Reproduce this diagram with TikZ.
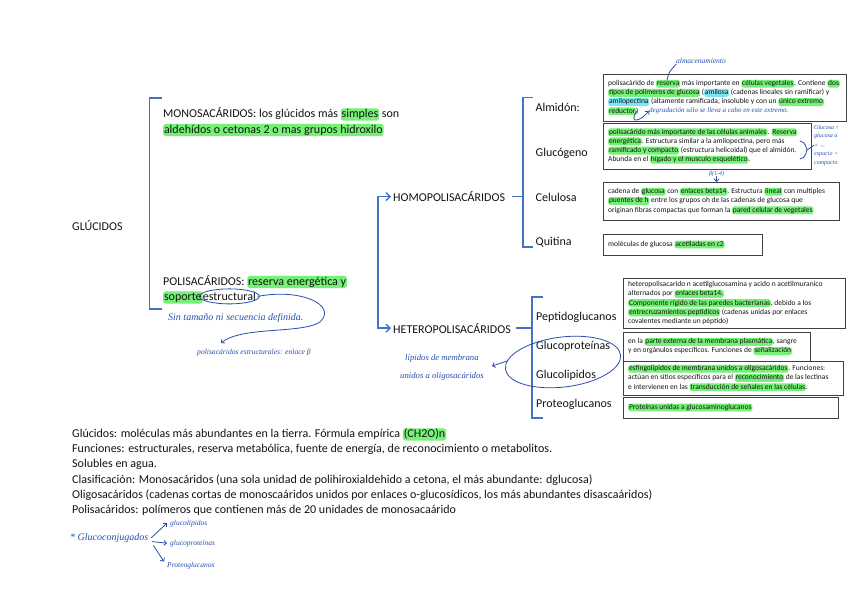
\documentclass[tikz,border=0pt]{standalone}
\usepackage{fontspec}
\setmainfont{Carlito}
\newfontfamily\handfont{Liberation Serif}
\usetikzlibrary{arrows.meta}
\definecolor{brblue}{RGB}{68,114,196}
\definecolor{ink}{RGB}{38,78,178}
\definecolor{hlgreen}{RGB}{118,240,118}
\definecolor{hlcyan}{RGB}{125,228,242}
\definecolor{boxc}{RGB}{64,64,64}
\definecolor{txt}{RGB}{20,20,20}
\newcommand\hlg[1]{\tikz[baseline=(hlbox.base)]\node[fill=hlgreen, draw=none, rounded corners=2.5pt, inner xsep=0.8pt, inner ysep=0.4pt, outer sep=0pt, anchor=base, align=none, text height=0.72em, text depth=0.22em] (hlbox) {#1};}
\newcommand\hlc[1]{\tikz[baseline=(hlbox.base)]\node[fill=hlcyan, draw=none, rounded corners=2.5pt, inner xsep=0.8pt, inner ysep=0.4pt, outer sep=0pt, anchor=base, align=none, text height=0.72em, text depth=0.22em] (hlbox) {#1};}
\begin{document}
\begin{tikzpicture}[x=1pt,y=-1pt,
  main/.style={anchor=base west, inner sep=0pt, text=txt, font=\fontsize{12}{14}\selectfont},
  bottomtxt/.style={main, font=\fontsize{12}{14}\selectfont},
  brk/.style={draw=brblue, line width=1.4pt},
  ibox/.style={draw=boxc, line width=0.9pt, anchor=north west, inner sep=0pt, outer sep=0pt},
  btext/.style={anchor=west, inner sep=0pt, align=left, text=txt, font=\fontsize{7.5}{9.2}\selectfont},
  hand/.style={anchor=base west, inner sep=0pt, text=ink, font={\handfont\itshape\fontsize{#1}{#1}\selectfont}},
  inkline/.style={draw=ink, line width=0.8pt, line cap=round},
  inkarrow/.style={inkline, -{Straight Barb[length=2.5pt,width=5pt]}},
  brarrow/.style={brk, {Straight Barb[length=4pt,width=8pt]}-{Straight Barb[length=4pt,width=8pt]}},
]
\fill[white] (0,0) rectangle (848,599);
\useasboundingbox (0,0) rectangle (848,599);

% main left
\node[main] (glu) at (72,230) {GLÚCIDOS};
\draw[brk] (162,98) -- (149.5,98) -- (149.5,309) -- (162,309);
\node[main] (mono1) at (163,117.5) {MONOSACÁRIDOS: los glúcidos más \hlg{simples} son};
\node[main] (mono2) at (163,133) {\hlg{aldehídos o cetonas 2 o mas grupos hidroxilo}};
\node[main] (poli1) at (163,285) {POLISACÁRIDOS: \hlg{reserva energética y}};
\node[main] (poli2) at (163,300.5) {\hlg{soporte\hspace{1.5pt}}};
\node[main] (estr) at (poli2.base east) {estructural};

% homo / hetero
\node[main] (homo) at (393,201.5) {HOMOPOLISACÁRIDOS};
\node[main] (hetero) at (393,333) {HETEROPOLISACÁRIDOS};
\draw[brarrow] ([xshift=-2pt]homo.west) -- ++(-13,0) |- ([xshift=-2pt]hetero.west);

\coordinate (hbt) at (523,97.5);
\coordinate (hbb) at (523,247);
\draw[brk] ([xshift=10pt]hbt) -- (hbt) -- (hbb) -- ([xshift=10pt]hbb);
\draw[brk] ([xshift=7pt]homo.east) -- (homo.east -| hbt);
\node[main] (almidon) at (535.5,112) {Almidón:};
\node[main] (glucog) at (535.5,156) {Glucógeno};
\node[main] (celul) at (535.5,201) {Celulosa};
\node[main] (quit) at (535.5,245) {Quitina};

\coordinate (tbt) at (532,297);
\coordinate (tbb) at (532,418);
\draw[brk] ([xshift=11pt]tbt) -- (tbt) -- (tbb) -- ([xshift=11pt]tbb);
\draw[brk] ([xshift=5pt]hetero.east) -- (hetero.east -| tbt);
\node[main] (peptido) at (536,320) {Peptidoglucanos};
\node[main] (glprot) at (536,349) {Glucoproteínas};
\node[main] (gllip) at (536,378) {Glucolipidos};
\node[main] (proteog) at (536,407.5) {Proteoglucanos};

% boxes
\node[ibox, minimum width=243pt, minimum height=47pt] (balm) at (603,74) {};
\node[btext] (talm) at ([xshift=5pt]balm.west) {polisacárido de \hlg{reserva} más importante en \hlg{células vegetales}. Contiene \hlg{dos}\\
\hlg{tipos de polímeros de glucosa} (\hlc{amilosa} (cadenas lineales sin ramificar) y\\
\hlc{amilopectina} (altamente ramificada, insoluble y con un \hlg{único extremo}\\
\hlg{reductor})};

\node[ibox, minimum width=208pt, minimum height=46pt] (bglu) at (603,123) {};
\node[btext] (tglu) at ([xshift=5pt]bglu.west) {\hlg{polisacárido más importante de las células animales}. \hlg{Reserva}\\
\hlg{energética}. Estructura similar a la amilopectina, pero más\\
\hlg{ramificado y compacto} (estructura helicoidal) que el almidón.\\
Abunda en el \hlg{hígado y el musculo esquelético}.};

\node[ibox, minimum width=236pt, minimum height=38pt] (bcel) at (603,182) {};
\node[btext] (tcel) at ([xshift=5pt]bcel.west) {cadena de \hlg{glucosa} con \hlg{enlaces beta14}. Estructura \hlg{lineal} con multiples\\
\hlg{puentes de h} entre los grupos oh de las cadenas de glucosa que\\
originan fibras compactas que forman la \hlg{pared celular de vegetales}};

\node[ibox, minimum width=159pt, minimum height=21pt] (bqui) at (603,234) {};
\node[btext] (tqui) at ([xshift=5pt]bqui.west) {moléculas de glucosa \hlg{acetiladas en c2}};

\node[ibox, minimum width=222pt, minimum height=50pt] (bpep) at (623,278) {};
\node[btext] (tpep) at ([xshift=5pt]bpep.west) {heteropolisacarido n acetilglucosamina y acido n acetilmuranico\\
alternados por \hlg{enlaces beta14.}\\
\hlg{Componente rígido de las paredes bacterianas}, debido a los\\
\hlg{entrecruzamientos peptídicos} (cadenas unidas por enlaces\\
covalentes mediante un péptido)};

\node[ibox, minimum width=187pt, minimum height=29pt] (bgpr) at (623,332) {};
\node[btext] (tgpr) at ([xshift=5pt]bgpr.west) {en la \hlg{parte externa de la membrana plasmática}, sangre\\
y en orgánulos específicos. Funciones de \hlg{señalización}};

\node[ibox, minimum width=220pt, minimum height=34pt] (bgli) at (623,361) {};
\node[btext] (tgli) at ([xshift=5pt]bgli.west) {\hlg{esfingolípidos de membrana unidos a oligosacáridos}. Funciones:\\
actúan en sitios específicos para el \hlg{reconocimiento} de las lectinas\\
e intervienen en las \hlg{transducción de señales en las células}.};

\node[ibox, minimum width=215pt, minimum height=21pt] (bpro) at (623,397) {};
\node[btext] (tpro) at ([xshift=5pt]bpro.west) {\hlg{Proteínas unidas a glucosaminoglucanos}};

% bottom text
\node[bottomtxt] (b1) at (72,437.5) {Glúcidos: moléculas más abundantes en la tierra. Fórmula empírica \hlg{(CH2O)n}};
\node[bottomtxt] (b2) at (72,452.7) {Funciones: estructurales, reserva metabólica, fuente de energía, de reconocimiento o metabolitos.};
\node[bottomtxt] (b3) at (72,467.9) {Solubles en agua.};
\node[bottomtxt] (b4) at (72,483.1) {Clasificación: Monosacáridos (una sola unidad de polihiroxialdehido a cetona, el más abundante: dglucosa)};
\node[bottomtxt] (b5) at (72,498.3) {Oligosacáridos (cadenas cortas de monoscaáridos unidos por enlaces o-glucosídicos, los más abundantes disascaáridos)};
\node[bottomtxt] (b6) at (72,513.5) {Polisacáridos: polímeros que contienen más de 20 unidades de monosacaárido};

% handwriting
\draw[inkline] (estr.center) ellipse [x radius=30pt, y radius=7.5pt];
\coordinate (polarr) at (221,343);
\draw[inkarrow] ([xshift=2pt]estr.east) .. controls (300,288) and (338,305) .. (320,322) .. controls (302,334) and (242,326) .. (polarr);
\node[hand=10] (sintam) at (168,320) {Sin tamaño ni secuencia definida.};
\node[hand=7.6] (polest) at (197,354) {polisacáridos estructurales: enlace β};

\coordinate (gle) at (563,362);
\draw[inkline, rotate around={7:(gle)}] (gle) ellipse [x radius=58pt, y radius=25pt];
\coordinate (lipa) at (507,361);
\coordinate (lipb) at (492,366);
\draw[inkarrow] (lipa) -- (lipb);
\node[hand=8.7] (lip1) at (405,360) {lípidos de membrana};
\node[hand=8.7] (lip2) at (400,378) {unidos a oligosacáridos};

\node[hand=7.5] (almac) at (676,64) {almacenamiento};
\coordinate (resv) at (667,80);
\draw[inkline] (resv) .. controls (669,72) .. (almac.south west);
\node[hand=7] (degr) at (649,112.5) {degradación sólo se lleva a cabo en este extremo.};
\coordinate (redend) at (637,111);
\draw[inkarrow] (redend) .. controls (628,124) and (640,122) .. (degr.west);

\coordinate (brtop) at (800,141);
\coordinate (brbot) at (800,159);
\coordinate (brmid) at (807,150);
\draw[inkline] (brtop) .. controls (806,142) and (806,148) .. (brmid) .. controls (806,152) and (806,158) .. (brbot);
\node[hand=6] (ga1) at (814,130) {Glucosa ↑};
\node[hand=6] (ga2) at (814,138) {glucosa a};
\node[hand=6] (ga3) at (814,147) {+ ←};
\node[hand=6] (ga4) at (814,155) {espacio +};
\node[hand=6] (ga5) at (814,164) {compacto};
\draw[inkline] (brmid) -- (ga3.west);

\node[hand=6] (beta) at (709,175) {β(1-4)};
\draw[inkarrow] (beta.south) -- (beta.south |- bcel.north);

\node[hand=10] (gconj) at (70,540) {* Glucoconjugados};
\node[hand=7.5] (glip) at (170,525) {glucolípidos};
\node[hand=7.5] (gprot) at (170,545) {glucoproteínas};
\node[hand=7.5] (pglu) at (167,567) {Proteoglucanos};
\draw[inkarrow] ([xshift=3pt]gconj.east) -- ([xshift=-3pt]glip.west);
\draw[inkarrow] ([xshift=4pt,yshift=-4pt]gconj.east) -- ([xshift=-3pt]gprot.west);
\draw[inkarrow] ([xshift=5pt,yshift=-8pt]gconj.east) -- ([xshift=-3pt]pglu.north west);
\end{tikzpicture}
\end{document}
